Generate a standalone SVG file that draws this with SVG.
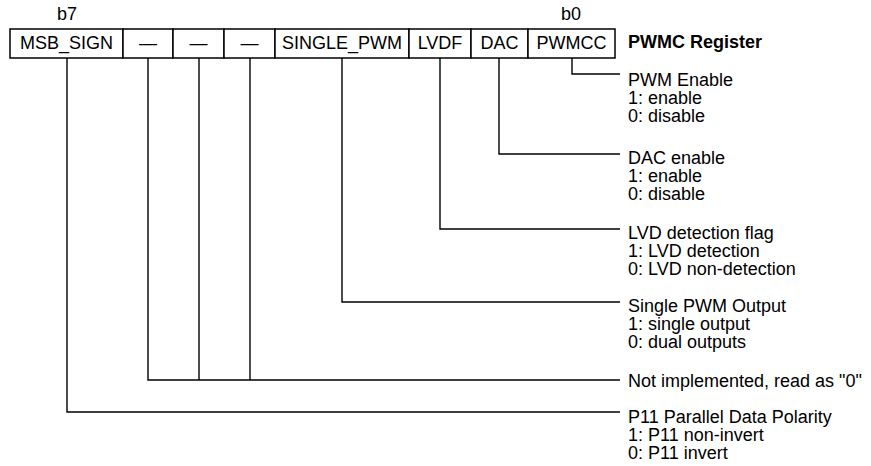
<svg xmlns="http://www.w3.org/2000/svg" width="871" height="466" viewBox="0 0 871 466">
<style>
text{font-family:"Liberation Sans",Arial,sans-serif;font-size:18px;fill:#000}
.c{text-anchor:middle}
.b{font-weight:bold}
.cell{fill:#fff;stroke:#000;stroke-width:1.5}
.ln{fill:none;stroke:#000;stroke-width:1.4}
</style>
<rect width="871" height="466" fill="#fff"/>
<g id="bits">
<text x="67" y="20" class="c">b7</text>
<text x="571" y="20" class="c">b0</text>
</g>
<g id="register">
<g id="cell-msb"><rect class="cell" x="10" y="29" width="113" height="29"/><text x="66.5" y="49" class="c">MSB_SIGN</text></g>
<g id="cell-b6"><rect class="cell" x="123" y="29" width="50" height="29"/><text x="148" y="49" class="c">—</text></g>
<g id="cell-b5"><rect class="cell" x="173" y="29" width="51" height="29"/><text x="198.5" y="49" class="c">—</text></g>
<g id="cell-b4"><rect class="cell" x="224" y="29" width="51" height="29"/><text x="249.5" y="49" class="c">—</text></g>
<g id="cell-single"><rect class="cell" x="275" y="29" width="134" height="29"/><text x="342" y="49" class="c">SINGLE_PWM</text></g>
<g id="cell-lvdf"><rect class="cell" x="409" y="29" width="62" height="29"/><text x="440" y="49" class="c">LVDF</text></g>
<g id="cell-dac"><rect class="cell" x="471" y="29" width="57" height="29"/><text x="499.5" y="49" class="c">DAC</text></g>
<g id="cell-pwmcc"><rect class="cell" x="528" y="29" width="87" height="29"/><text x="571.5" y="49" class="c">PWMCC</text></g>
<text x="628" y="48" class="b">PWMC Register</text>
</g>
<g id="connectors">
<polyline class="ln" points="572,58 572,74 620,74"/>
<polyline class="ln" points="499,58 499,154 620,154"/>
<polyline class="ln" points="440,58 440,229 620,229"/>
<polyline class="ln" points="342,58 342,302 620,302"/>
<polyline class="ln" points="148,58 148,380 620,380"/>
<line class="ln" x1="199" y1="58" x2="199" y2="380"/>
<line class="ln" x1="250" y1="58" x2="250" y2="380"/>
<polyline class="ln" points="67,58 67,412 620,412"/>
</g>
<g id="desc-pwmcc">
<text x="628" y="86">PWM Enable</text>
<text x="628" y="104">1: enable</text>
<text x="628" y="122">0: disable</text>
</g>
<g id="desc-dac">
<text x="628" y="164">DAC enable</text>
<text x="628" y="182">1: enable</text>
<text x="628" y="200">0: disable</text>
</g>
<g id="desc-lvdf">
<text x="628" y="239">LVD detection flag</text>
<text x="628" y="257">1: LVD detection</text>
<text x="628" y="275">0: LVD non-detection</text>
</g>
<g id="desc-single">
<text x="628" y="312">Single PWM Output</text>
<text x="628" y="330">1: single output</text>
<text x="628" y="348">0: dual outputs</text>
</g>
<g id="desc-ni">
<text x="628" y="387">Not implemented, read as "0"</text>
</g>
<g id="desc-msb">
<text x="628" y="423">P11 Parallel Data Polarity</text>
<text x="628" y="441">1: P11 non-invert</text>
<text x="628" y="459">0: P11 invert</text>
</g>
</svg>
